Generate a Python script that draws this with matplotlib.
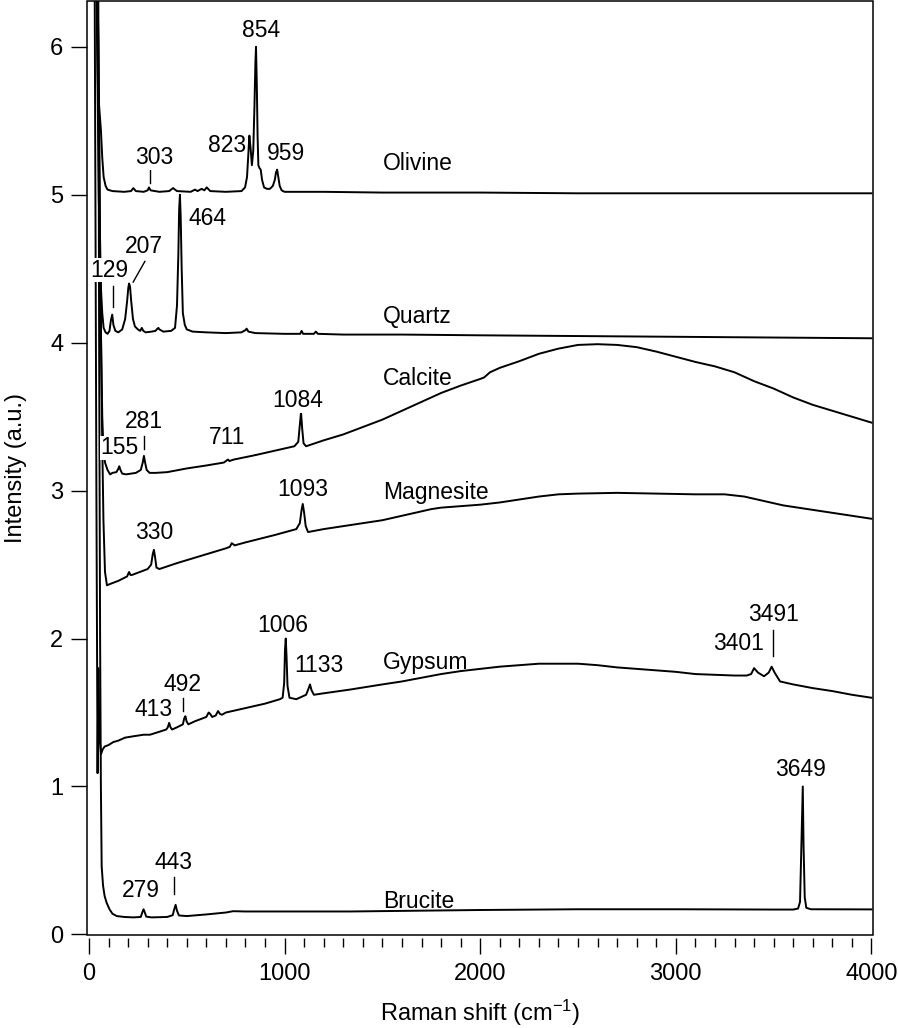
import matplotlib
matplotlib.use("Agg")
import matplotlib.pyplot as plt
from matplotlib.patches import Rectangle
from matplotlib.ticker import MultipleLocator

plt.rcParams['font.family'] = ['Liberation Sans', 'DejaVu Sans']
plt.rcParams['mathtext.fontset'] = 'custom'
plt.rcParams['mathtext.rm'] = 'Liberation Sans'
plt.rcParams['mathtext.it'] = 'Liberation Sans:italic'

# ---------------- data ----------------
olivine_x = [20, 38, 46, 52, 61, 68, 75, 85, 95, 120, 180, 215, 227, 240, 280, 300, 307, 315, 360, 410, 430,
             450, 520, 542, 555, 576, 590, 602, 620, 700, 780, 798, 808, 815, 820, 826, 833, 840, 846, 851,
             854, 858, 862, 866, 872, 878, 885, 895, 910, 925, 940, 950, 956, 962, 968, 975, 985, 1000, 1200,
             1500, 2000, 2500, 3000, 3500, 4000]
olivine_y = [8.0, 6.5, 5.74, 5.6, 5.44, 5.25, 5.12, 5.06, 5.035, 5.025, 5.02, 5.025, 5.045, 5.025, 5.02, 5.03,
             5.05, 5.03, 5.02, 5.025, 5.045, 5.025, 5.02, 5.035, 5.025, 5.04, 5.03, 5.05, 5.025, 5.02, 5.025,
             5.05, 5.12, 5.28, 5.40, 5.32, 5.20, 5.30, 5.60, 5.90, 6.0, 5.75, 5.40, 5.20, 5.18, 5.17, 5.10,
             5.05, 5.04, 5.04, 5.06, 5.10, 5.15, 5.17, 5.12, 5.06, 5.03, 5.02, 5.02, 5.015, 5.015, 5.01, 5.01,
             5.01, 5.01]

quartz_x = [25, 42, 50, 56, 62, 68, 75, 85, 95, 105, 112, 119, 125, 135, 150, 170, 185, 195, 201, 205, 210,
            216, 225, 235, 250, 262, 270, 278, 290, 320, 340, 350, 355, 360, 380, 420, 440, 450, 457, 461,
            465, 469, 474, 480, 490, 500, 530, 600, 700, 780, 800, 806, 815, 850, 1000, 1080, 1087, 1095,
            1150, 1160, 1170, 1300, 1600, 2000, 2500, 3000, 3500, 4000]
quartz_y = [8.0, 6.0, 5.0, 4.6, 4.35, 4.2, 4.1, 4.07, 4.06, 4.08, 4.15, 4.19, 4.12, 4.08, 4.07, 4.09, 4.16,
            4.28, 4.37, 4.40, 4.38, 4.28, 4.16, 4.11, 4.09, 4.08, 4.10, 4.08, 4.07, 4.075, 4.08, 4.095, 4.10,
            4.09, 4.075, 4.08, 4.10, 4.25, 4.60, 4.90, 5.0, 4.85, 4.50, 4.20, 4.12, 4.09, 4.075, 4.07, 4.065,
            4.07, 4.085, 4.095, 4.075, 4.065, 4.06, 4.06, 4.08, 4.06, 4.06, 4.075, 4.06, 4.055, 4.055, 4.05,
            4.045, 4.04, 4.035, 4.03]

calcite_x = [30, 48, 56, 62, 68, 74, 82, 95, 108, 120, 140, 149, 155, 161, 170, 190, 240, 265, 275, 281, 287,
             295, 310, 340, 400, 500, 600, 690, 705, 711, 718, 740, 850, 950, 1050, 1070, 1077, 1084, 1090,
             1097, 1110, 1200, 1300, 1400, 1500, 1600, 1700, 1800, 1900, 2000, 2020, 2050, 2100, 2200, 2300,
             2400, 2500, 2600, 2700, 2800, 2900, 3000, 3100, 3200, 3300, 3400, 3500, 3600, 3700, 3800, 3900,
             4000]
calcite_y = [8.0, 6.0, 4.8, 4.0, 3.5, 3.28, 3.19, 3.14, 3.11, 3.12, 3.125, 3.145, 3.165, 3.14, 3.115, 3.11,
             3.12, 3.14, 3.19, 3.235, 3.19, 3.14, 3.12, 3.12, 3.125, 3.15, 3.17, 3.19, 3.205, 3.21, 3.20, 3.21,
             3.24, 3.27, 3.30, 3.33, 3.43, 3.53, 3.42, 3.32, 3.30, 3.34, 3.38, 3.43, 3.48, 3.54, 3.60, 3.66,
             3.71, 3.755, 3.765, 3.80, 3.83, 3.875, 3.925, 3.96, 3.985, 3.99, 3.985, 3.97, 3.94, 3.905, 3.87,
             3.84, 3.80, 3.74, 3.69, 3.63, 3.58, 3.54, 3.50, 3.46]

magnesite_x = [30, 48, 58, 66, 74, 82, 92, 110, 150, 195, 205, 212, 220, 260, 300, 318, 326, 332, 338, 345,
               360, 450, 600, 700, 720, 730, 745, 800, 950, 1060, 1078, 1087, 1093, 1100, 1108, 1120, 1200,
               1300, 1400, 1500, 1600, 1700, 1750, 1800, 1900, 2000, 2100, 2200, 2300, 2400, 2500, 2700,
               2900, 3100, 3250, 3350, 3450, 3550, 3700, 3850, 4000]
magnesite_y = [8.0, 6.0, 4.5, 3.5, 2.8, 2.45, 2.36, 2.37, 2.39, 2.42, 2.45, 2.43, 2.43, 2.45, 2.47, 2.50,
               2.57, 2.60, 2.55, 2.48, 2.47, 2.51, 2.57, 2.61, 2.62, 2.645, 2.63, 2.65, 2.70, 2.74, 2.78, 2.87,
               2.91, 2.85, 2.76, 2.72, 2.74, 2.76, 2.78, 2.80, 2.83, 2.86, 2.875, 2.885, 2.895, 2.905, 2.92,
               2.94, 2.96, 2.975, 2.98, 2.985, 2.98, 2.975, 2.975, 2.96, 2.93, 2.90, 2.87, 2.84, 2.81]

gypsum_x = [25, 33, 38, 44, 48, 52, 56, 62, 70, 80, 100, 124, 150, 184, 230, 280, 312, 360, 395, 403, 410,
            417, 425, 450, 480, 487, 493, 499, 508, 540, 600, 612, 620, 630, 648, 660, 670, 680, 700, 800,
            900, 976, 990, 998, 1002, 1006, 1010, 1015, 1025, 1060, 1110, 1122, 1130, 1138, 1150, 1200, 1334,
            1500, 1600, 1700, 1800, 1900, 2000, 2100, 2200, 2300, 2400, 2500, 2600, 2700, 2800, 2900, 3000,
            3100, 3200, 3300, 3362, 3385, 3400, 3420, 3451, 3475, 3490, 3505, 3533, 3600, 3700, 3800, 3900,
            4000]
gypsum_y = [8.0, 5.0, 3.0, 1.09, 1.8, 1.45, 1.30, 1.22, 1.25, 1.27, 1.28, 1.30, 1.31, 1.33, 1.34, 1.35, 1.35,
            1.37, 1.385, 1.40, 1.43, 1.40, 1.385, 1.40, 1.42, 1.46, 1.475, 1.44, 1.42, 1.44, 1.47, 1.50, 1.49,
            1.47, 1.48, 1.51, 1.49, 1.485, 1.50, 1.53, 1.56, 1.59, 1.60, 1.70, 1.92, 2.00, 1.88, 1.68, 1.60,
            1.59, 1.62, 1.66, 1.69, 1.65, 1.62, 1.63, 1.655, 1.69, 1.71, 1.735, 1.76, 1.78, 1.795, 1.81, 1.82,
            1.83, 1.83, 1.83, 1.82, 1.805, 1.795, 1.785, 1.775, 1.76, 1.755, 1.75, 1.75, 1.76, 1.80, 1.77,
            1.745, 1.77, 1.81, 1.77, 1.71, 1.69, 1.665, 1.645, 1.62, 1.60]

brucite_x = [45, 52, 57, 61, 65, 72, 80, 90, 105, 120, 142, 180, 227, 265, 273, 279, 285, 293, 320, 400, 428,
             436, 443, 450, 460, 500, 600, 700, 737, 800, 1000, 1334, 2000, 2500, 3000, 3500, 3600, 3625,
             3635, 3641, 3649, 3653, 3659, 3667, 3690, 4000]
brucite_y = [8.0, 4.0, 2.0, 1.0, 0.46, 0.33, 0.26, 0.215, 0.17, 0.14, 0.124, 0.118, 0.115, 0.118, 0.15, 0.17,
             0.15, 0.12, 0.115, 0.118, 0.13, 0.17, 0.20, 0.16, 0.128, 0.124, 0.135, 0.148, 0.157, 0.155,
             0.155, 0.155, 0.165, 0.17, 0.17, 0.168, 0.168, 0.175, 0.22, 0.55, 1.0, 0.6, 0.25, 0.18, 0.17,
             0.169]

spectra = [(olivine_x, olivine_y), (quartz_x, quartz_y), (calcite_x, calcite_y),
           (magnesite_x, magnesite_y), (gypsum_x, gypsum_y), (brucite_x, brucite_y)]

mineral_names = ["Olivine", "Quartz", "Calcite", "Magnesite", "Gypsum", "Brucite"]
mineral_label_y = [5.21, 4.18, 3.76, 2.99, 1.84, 0.22]

peak_labels = ["854", "823", "959", "303", "464", "207", "129", "1084", "711", "281", "155",
               "1093", "330", "1006", "1133", "492", "413", "3491", "3401", "3649", "443", "279"]
peak_label_x = [879, 705, 1007, 332, 606, 281, 105, 1069, 708, 282, 158,
                1095, 336, 993, 1176, 478, 332, 3502, 3322, 3636, 431, 265]
peak_label_y = [6.11, 5.33, 5.28, 5.25, 4.84, 4.65, 4.49, 3.61, 3.36, 3.47, 3.29,
                3.005, 2.715, 2.09, 1.82, 1.69, 1.52, 2.16, 1.965, 1.115, 0.486, 0.30]

# marker lines (x0, y0, x1, y1)
marker_x0 = [312, 286, 124, 282, 482, 3495, 435]
marker_y0 = [5.17, 4.55, 4.38, 3.37, 1.60, 2.06, 0.385]
marker_x1 = [312, 226, 124, 282, 482, 3495, 435]
marker_y1 = [5.08, 4.41, 4.24, 3.28, 1.51, 1.88, 0.27]

# ---------------- figure ----------------
W, H = 898, 1028
fig = plt.figure(figsize=(W / 100, H / 100), dpi=100)
ax = fig.add_axes([87 / W, 1 - 935 / H, (873 - 87) / W, (935 - 1) / H])

for xs, ys in spectra:
    ax.plot(xs, ys, color='black', lw=1.4, solid_joinstyle='round')

fs = 16.5
for name, yv in zip(mineral_names, mineral_label_y):
    ax.text(1503, yv, name, ha='left', va='center', fontsize=fs)
for s, xv, yv in zip(peak_labels, peak_label_x, peak_label_y):
    ax.text(xv, yv, s, ha='center', va='center', fontsize=fs,
            bbox=dict(facecolor='white', edgecolor='none', pad=0.5))
for x0, y0, x1, y1 in zip(marker_x0, marker_y0, marker_x1, marker_y1):
    ax.plot([x0, x1], [y0, y1], color='black', lw=1.0)

ax.set_xlim(-10, 4008)
ax.set_ylim(-0.004, 6.31)
ax.set_xticks([0, 1000, 2000, 3000, 4000])
ax.xaxis.set_minor_locator(MultipleLocator(100))
ax.set_yticks([0, 1, 2, 3, 4, 5, 6])

for sp in ax.spines.values():
    sp.set_visible(False)
ax.spines['bottom'].set_position(('outward', 2.2))
ax.add_patch(Rectangle((0, 0), 1, 1, transform=ax.transAxes, fill=False,
                       lw=1.1, edgecolor='black', clip_on=False, zorder=5))

ax.tick_params(axis='both', which='major', direction='out', length=11.5, width=1.0,
               labelsize=17, color='black')
ax.tick_params(axis='x', which='minor', direction='out', length=6.2, width=1.0)
ax.tick_params(axis='y', which='major', pad=5.5)
ax.tick_params(axis='x', which='major', pad=6.5)

ax.set_xlabel("Raman shift (cm$^{\\mathrm{-1}}$)", fontsize=17, labelpad=9)
ax.set_ylabel("Intensity (a.u.)", fontsize=17, labelpad=17)

fig.savefig("out.png", dpi=100)
